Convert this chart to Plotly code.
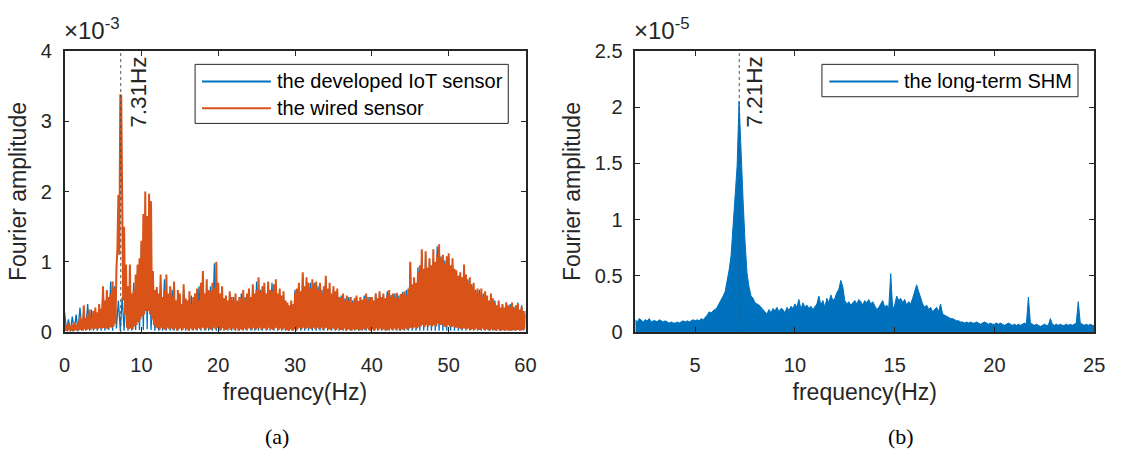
import numpy as np
import plotly.graph_objects as go

# ---------------- data ----------------
# (a) spectrum amplitudes in units of 1e-3, frequency step 0.125 Hz, 0..60 Hz
wired_sensor = [
    0.12,0.02,0.10,0.01,0.13,0.03,0.09,0.02,   # 0 Hz
    0.11,0.01,0.14,0.03,0.10,0.02,0.15,0.03,   # 1
    0.22,0.03,0.18,0.02,0.38,0.04,0.20,0.03,   # 2
    0.25,0.04,0.32,0.03,0.22,0.05,0.30,0.04,   # 3
    0.35,0.05,0.28,0.04,0.40,0.06,0.33,0.05,   # 4
    0.65,0.06,0.45,0.05,0.60,0.04,0.50,0.07,   # 5
    0.55,0.06,0.72,0.08,0.62,0.12,0.90,1.18,   # 6
    1.95,1.10,3.38,3.36,1.86,0.45,1.50,0.25,   # 7
    0.96,0.06,0.65,0.04,0.96,0.05,0.55,0.04,   # 8
    0.60,0.08,0.82,0.10,0.96,0.14,1.05,0.18,   # 9
    1.30,0.22,1.68,0.25,2.00,0.30,1.65,0.30,   # 10
    1.97,0.25,1.86,0.18,0.87,0.10,0.60,0.06,   # 11
    0.64,0.05,0.55,0.03,0.82,0.06,0.50,0.04,   # 12
    0.60,0.03,0.82,0.06,0.55,0.04,0.65,0.05,   # 13
    0.50,0.03,0.72,0.05,0.45,0.02,0.60,0.04,   # 14
    0.55,0.05,0.40,0.03,0.68,0.06,0.48,0.04,   # 15
    0.45,0.02,0.58,0.05,0.40,0.03,0.50,0.05,   # 16
    0.55,0.03,0.62,0.06,0.45,0.04,0.70,0.06,   # 17
    0.87,0.05,0.55,0.03,0.75,0.06,0.60,0.04,   # 18
    0.58,0.03,0.70,0.06,0.62,0.04,1.00,0.06,   # 19
    0.70,0.04,0.55,0.03,0.65,0.06,0.48,0.03,   # 20
    0.52,0.03,0.45,0.05,0.58,0.03,0.50,0.05,   # 21
    0.45,0.03,0.55,0.05,0.42,0.02,0.50,0.04,   # 22
    0.48,0.03,0.60,0.05,0.45,0.03,0.55,0.05,   # 23
    0.62,0.05,0.50,0.03,0.68,0.06,0.55,0.03,   # 24
    0.60,0.05,0.78,0.06,0.58,0.03,0.65,0.05,   # 25
    0.70,0.05,0.55,0.03,0.72,0.06,0.60,0.04,   # 26
    0.58,0.03,0.68,0.05,0.75,0.06,0.55,0.03,   # 27
    0.62,0.05,0.52,0.03,0.58,0.05,0.45,0.03,   # 28
    0.42,0.02,0.38,0.04,0.45,0.02,0.40,0.04,   # 29
    0.55,0.03,0.62,0.05,0.70,0.06,0.58,0.04,   # 30
    0.85,0.06,0.65,0.04,0.78,0.06,0.70,0.05,   # 31
    0.62,0.04,0.75,0.06,0.68,0.04,0.72,0.06,   # 32
    0.60,0.04,0.70,0.06,0.55,0.03,0.65,0.05,   # 33
    0.80,0.06,0.62,0.04,0.70,0.03,0.55,0.05,   # 34
    0.65,0.04,0.58,0.03,0.62,0.05,0.50,0.03,   # 35
    0.48,0.03,0.55,0.05,0.45,0.02,0.52,0.04,   # 36
    0.45,0.03,0.50,0.02,0.42,0.04,0.48,0.03,   # 37
    0.52,0.04,0.44,0.02,0.50,0.03,0.46,0.04,   # 38
    0.48,0.03,0.55,0.05,0.45,0.03,0.50,0.02,   # 39
    0.50,0.04,0.45,0.02,0.55,0.05,0.48,0.03,   # 40
    0.58,0.05,0.50,0.03,0.55,0.04,0.48,0.02,   # 41
    0.52,0.03,0.60,0.05,0.50,0.03,0.55,0.05,   # 42
    0.50,0.03,0.56,0.05,0.48,0.02,0.54,0.04,   # 43
    0.55,0.03,0.58,0.05,0.52,0.03,0.62,0.05,   # 44
    1.00,0.06,0.68,0.05,0.78,0.07,0.70,0.05,   # 45
    0.85,0.07,0.95,0.08,1.18,0.10,0.90,0.07,   # 46
    1.15,0.10,0.92,0.08,1.05,0.10,0.95,0.08,   # 47
    1.18,0.10,1.00,0.08,1.10,0.12,1.25,0.10,   # 48
    1.05,0.10,1.10,0.08,0.98,0.07,1.08,0.10,   # 49
    1.12,0.08,0.95,0.07,1.05,0.08,0.90,0.06,   # 50
    0.88,0.06,0.80,0.05,0.85,0.04,0.78,0.05,   # 51
    0.96,0.05,0.82,0.04,0.70,0.05,0.78,0.03,   # 52
    0.65,0.04,0.70,0.03,0.58,0.05,0.62,0.03,   # 53
    0.55,0.03,0.62,0.05,0.50,0.03,0.58,0.04,   # 54
    0.52,0.03,0.45,0.02,0.55,0.04,0.48,0.03,   # 55
    0.42,0.02,0.38,0.04,0.45,0.02,0.35,0.02,   # 56
    0.40,0.03,0.35,0.02,0.42,0.03,0.38,0.02,   # 57
    0.36,0.02,0.42,0.03,0.33,0.02,0.38,0.03,   # 58
    0.40,0.03,0.32,0.02,0.36,0.03,0.30,0.04,   # 59
    0.25,                                      # 60
]

# (a) developed IoT sensor, units of 1e-3, frequency step 0.25 Hz, 0..60 Hz
iot_sensor = [
    0.28,0.02,0.18,0.01, 0.22,0.02,0.25,0.01, 0.35,0.02,0.30,0.02, 0.40,0.02,0.32,0.02,
    0.30,0.02,0.38,0.02, 0.62,0.02,0.55,0.03, 0.72,0.02,0.65,0.05, 0.45,0.02,0.50,0.02,
    0.60,0.02,0.45,0.02, 0.70,0.03,0.90,0.03, 1.25,0.03,1.60,0.04, 1.70,0.03,0.60,0.02,
    0.55,0.02,0.70,0.02, 0.75,0.02,0.50,0.02, 0.60,0.02,0.45,0.02, 0.50,0.02,0.60,0.02,
    0.45,0.02,0.52,0.02, 0.55,0.02,0.65,0.02, 0.80,0.02,0.60,0.02, 0.65,0.02,0.98,0.02,
    0.60,0.02,0.50,0.02, 0.50,0.02,0.55,0.02, 0.50,0.02,0.45,0.02, 0.55,0.02,0.50,0.02,
    0.58,0.02,0.62,0.02, 0.72,0.02,0.60,0.02, 0.65,0.02,0.68,0.02, 0.70,0.02,0.58,0.02,
    0.55,0.02,0.50,0.02, 0.40,0.02,0.42,0.02, 0.60,0.02,0.65,0.02, 0.82,0.02,0.72,0.02,
    0.70,0.02,0.70,0.02, 0.65,0.02,0.60,0.02, 0.75,0.02,0.62,0.02, 0.60,0.02,0.55,0.02,
    0.52,0.02,0.48,0.02, 0.50,0.02,0.45,0.02, 0.50,0.02,0.48,0.02, 0.52,0.02,0.50,0.02,
    0.48,0.02,0.55,0.02, 0.55,0.02,0.52,0.02, 0.58,0.02,0.53,0.02, 0.55,0.02,0.52,0.02,
    0.57,0.02,0.60,0.02, 0.98,0.02,0.75,0.02, 0.92,0.02,1.15,0.02, 1.10,0.02,1.00,0.02,
    1.05,0.02,1.22,0.02, 1.08,0.02,1.02,0.02, 1.08,0.02,0.98,0.02, 0.85,0.02,0.82,0.02,
    0.93,0.02,0.75,0.02, 0.68,0.02,0.60,0.02, 0.60,0.02,0.55,0.02, 0.50,0.02,0.52,0.02,
    0.45,0.02,0.40,0.02, 0.38,0.02,0.42,0.02, 0.40,0.02,0.36,0.02, 0.42,0.02,0.38,0.02,
    0.30,
]

# (b) long-term SHM spectrum, units of 1e-5, frequency step 0.1 Hz, 2..25 Hz
long_term_shm = [
    0.11,0.09,0.12,0.10,0.09,0.11,0.10,0.12,0.09,0.10,   # 2 Hz
    0.10,0.09,0.11,0.10,0.09,0.10,0.09,0.08,0.09,0.08,   # 3
    0.08,0.09,0.08,0.09,0.10,0.09,0.10,0.09,0.10,0.11,   # 4
    0.10,0.11,0.10,0.12,0.11,0.13,0.15,0.18,0.17,0.19,   # 5
    0.20,0.22,0.25,0.28,0.32,0.36,0.45,0.55,0.68,0.95,   # 6
    1.25,1.47,2.05,1.55,1.18,0.80,0.52,0.40,0.32,0.30,   # 7
    0.26,0.25,0.24,0.22,0.20,0.18,0.16,0.20,0.17,0.21,   # 8
    0.19,0.22,0.18,0.21,0.20,0.17,0.22,0.19,0.23,0.21,   # 9
    0.25,0.22,0.29,0.20,0.26,0.22,0.24,0.21,0.23,0.20,   # 10
    0.22,0.25,0.32,0.24,0.28,0.22,0.30,0.26,0.33,0.28,   # 11
    0.30,0.35,0.38,0.46,0.40,0.28,0.25,0.27,0.24,0.26,   # 12
    0.28,0.25,0.29,0.27,0.24,0.28,0.26,0.29,0.25,0.27,   # 13
    0.23,0.20,0.22,0.25,0.28,0.22,0.24,0.21,0.52,0.20,   # 14
    0.24,0.32,0.28,0.30,0.26,0.29,0.24,0.27,0.25,0.30,   # 15
    0.35,0.42,0.36,0.30,0.25,0.22,0.24,0.20,0.22,0.18,   # 16
    0.20,0.22,0.18,0.25,0.16,0.15,0.14,0.13,0.12,0.12,   # 17
    0.11,0.10,0.10,0.09,0.09,0.08,0.09,0.08,0.09,0.08,   # 18
    0.08,0.09,0.08,0.07,0.08,0.09,0.08,0.07,0.08,0.07,   # 19
    0.07,0.08,0.07,0.08,0.07,0.06,0.07,0.08,0.07,0.06,   # 20
    0.07,0.06,0.07,0.06,0.07,0.08,0.07,0.31,0.08,0.07,   # 21
    0.06,0.07,0.06,0.05,0.06,0.07,0.06,0.06,0.12,0.07,   # 22
    0.06,0.07,0.06,0.07,0.06,0.06,0.07,0.06,0.07,0.06,   # 23
    0.07,0.08,0.27,0.08,0.07,0.06,0.07,0.06,0.07,0.06,   # 24
    0.06,                                                # 25
]

peak_a_hz = 7.31
peak_b_hz = 7.21
x_ticks_a = [0, 10, 20, 30, 40, 50, 60]
y_ticks_a = [0, 1, 2, 3, 4]
x_ticks_b = [5, 10, 15, 20, 25]
y_ticks_b = [0, 0.5, 1, 1.5, 2, 2.5]
y_tick_text_b = ["0", "0.5", "1", "1.5", "2", "2.5"]

# ---------------- figure ----------------
BLUE = "#0072BD"
ORANGE = "#D95319"
AX = "#262626"
FONT = "Liberation Sans, Arial, sans-serif"
SERIF = "Liberation Serif, Times New Roman, serif"

f_wired = np.linspace(0, 60, len(wired_sensor))
f_iot = np.linspace(0, 60, len(iot_sensor))
f_shm = np.linspace(2, 25, len(long_term_shm))

fig = go.Figure()
fig.add_trace(go.Scatter(x=f_iot, y=iot_sensor, mode="lines", name="the developed IoT sensor",
                         line=dict(color=BLUE, width=1.3), xaxis="x", yaxis="y", showlegend=False))
fig.add_trace(go.Scatter(x=f_wired, y=wired_sensor, mode="lines", name="the wired sensor",
                         line=dict(color=ORANGE, width=2), xaxis="x", yaxis="y", showlegend=False))
fig.add_trace(go.Scatter(x=f_shm, y=long_term_shm, mode="lines", name="the long-term SHM",
                         line=dict(color=BLUE, width=1), fill="tozeroy", fillcolor=BLUE,
                         xaxis="x2", yaxis="y2", showlegend=False))

W, H = 1121, 465
def px(xp):
    return xp / W
def py(yp):
    return 1 - yp / H

axis_common = dict(showline=True, linecolor=AX, linewidth=1.5, mirror="ticks", ticks="inside",
                   ticklen=5, tickwidth=1, tickcolor=AX, showgrid=False, zeroline=False,
                   tickfont=dict(family=FONT, size=20, color=AX),
                   title_font=dict(family=FONT, size=23, color=AX))

fig.update_layout(
    width=W, height=H, margin=dict(l=0, r=0, t=0, b=0),
    paper_bgcolor="white", plot_bgcolor="white", showlegend=False,
    xaxis=dict(domain=[px(59.5), px(527.5)], range=[0, 60], tickvals=x_ticks_a, ticklabelstandoff=14,
               title=dict(text="frequency(Hz)", standoff=9), anchor="y", **axis_common),
    yaxis=dict(domain=[py(337), py(42)], range=[0, 4], tickvals=y_ticks_a, ticklabelstandoff=7,
               title=dict(text="Fourier amplitude", standoff=8), anchor="x", **axis_common),
    xaxis2=dict(domain=[px(639), px(1105)], range=[2, 25], tickvals=x_ticks_b, ticklabelstandoff=14,
                title=dict(text="frequency(Hz)", standoff=9), anchor="y2", **axis_common),
    yaxis2=dict(domain=[py(337), py(42)], range=[0, 2.5], tickvals=y_ticks_b, ticktext=y_tick_text_b,
                ticklabelstandoff=7,
                title=dict(text="Fourier amplitude", standoff=8), anchor="x2", **axis_common),
)

# dotted peak markers
fig.add_shape(type="line", xref="x", yref="y", x0=peak_a_hz, x1=peak_a_hz, y0=0, y1=4,
              line=dict(color="#505050", width=1, dash="dot"))
fig.add_shape(type="line", xref="x2", yref="y2", x0=peak_b_hz, x1=peak_b_hz, y0=0, y1=2.5,
              line=dict(color="#505050", width=1, dash="dot"))

fig.add_annotation(x=9.6, y=3.41, xref="x", yref="y", text=f"{peak_a_hz:.2f}Hz", textangle=-90,
                   xanchor="center", yanchor="middle",
                   showarrow=False, font=dict(family=FONT, size=22.5, color=AX))
fig.add_annotation(x=8.0, y=2.13, xref="x2", yref="y2", text=f"{peak_b_hz:.2f}Hz", textangle=-90,
                   xanchor="center", yanchor="middle",
                   showarrow=False, font=dict(family=FONT, size=22.5, color=AX))

# exponent labels
fig.add_annotation(x=px(58), y=py(36), xref="paper", yref="paper", xanchor="left", yanchor="bottom",
                   text="×10<sup>-3</sup>", showarrow=False, borderpad=0,
                   font=dict(family=FONT, size=24, color=AX))
fig.add_annotation(x=px(637), y=py(36), xref="paper", yref="paper", xanchor="left", yanchor="bottom",
                   text="×10<sup>-5</sup>", showarrow=False, borderpad=0,
                   font=dict(family=FONT, size=24, color=AX))

# manual legends (MATLAB style)
def legend_box(x0, x1, y0, y1):
    fig.add_shape(type="rect", xref="paper", yref="paper", x0=px(x0), x1=px(x1), y0=py(y1), y1=py(y0),
                  line=dict(color="#262626", width=1), fillcolor="white", layer="above")

def legend_entry(xl0, xl1, xt, yc, color, label):
    fig.add_shape(type="line", xref="paper", yref="paper", x0=px(xl0), x1=px(xl1), y0=py(yc), y1=py(yc),
                  line=dict(color=color, width=2), layer="above")
    fig.add_annotation(x=px(xt), y=py(yc), xref="paper", yref="paper", xanchor="left", yanchor="middle",
                       text=label, showarrow=False, borderpad=0,
                       font=dict(family=FONT, size=20, color="black"))

legend_box(192, 510, 56, 118)
legend_entry(199, 269, 274, 74, BLUE, "the developed IoT sensor")
legend_entry(199, 269, 274, 102, ORANGE, "the wired sensor")
legend_box(828.5, 1088.5, 56, 90)
legend_entry(836, 906, 911, 74, BLUE, "the long-term SHM")

# panel captions
fig.add_annotation(x=px(275.5), y=py(447), xref="paper", yref="paper", text="(a)", showarrow=False,
                   xanchor="center", yanchor="middle",
                   font=dict(family=SERIF, size=22, color="black"))
fig.add_annotation(x=px(909), y=py(447), xref="paper", yref="paper", text="(b)", showarrow=False,
                   xanchor="center", yanchor="middle",
                   font=dict(family=SERIF, size=22, color="black"))

fig.write_html("out.html")
